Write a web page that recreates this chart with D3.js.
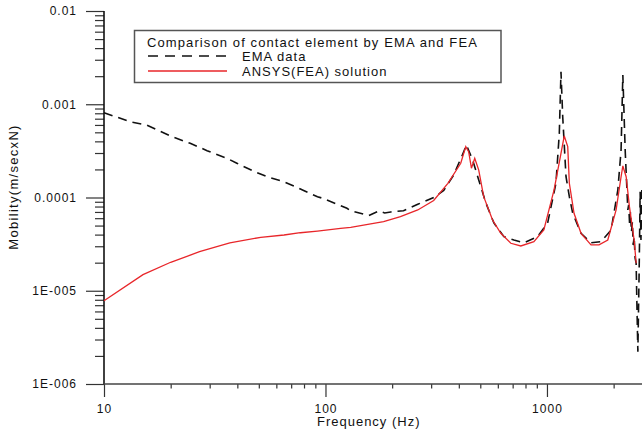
<!DOCTYPE html>
<html><head><meta charset="utf-8">
<script src="https://cdn.jsdelivr.net/npm/d3@7"></script>
<style>
html,body{margin:0;padding:0;background:#fff;}
svg{display:block;font-family:"Liberation Sans",Arial,Helvetica,sans-serif;}
</style></head><body>
<svg id="chart" width="642" height="430"></svg>
<script>
// ---- data ----
const emaFreq = [10, 13.1, 15.6, 20, 24.5, 29.2, 35.9, 39.8, 47.2, 54.5, 64.6, 71.9, 92, 97.9, 125, 130, 157, 174, 185, 197, 225, 261, 308, 342, 379, 415, 433, 462, 492, 530, 576, 639, 709, 787, 906, 1007, 1098, 1137, 1157, 1178, 1219, 1262, 1307, 1425, 1581, 1754, 1948, 2089, 2161, 2201, 2255, 2318, 2339, 2362, 2382, 2407, 2430, 2451, 2476, 2500, 2527, 2554, 2573, 2608, 2635, 2657, 2683];
const emaVal = [8.12e-4, 6.50e-4, 5.99e-4, 4.55e-4, 3.81e-4, 3.18e-4, 2.63e-4, 2.33e-4, 1.92e-4, 1.67e-4, 1.48e-4, 1.33e-4, 1.02e-4, 9.75e-5, 7.66e-5, 7.22e-5, 6.41e-5, 7.17e-5, 6.82e-5, 7.0e-5, 7.22e-5, 8.45e-5, 1.0e-4, 1.19e-4, 1.74e-4, 2.86e-4, 3.66e-4, 2.52e-4, 1.54e-4, 8.73e-5, 5.33e-5, 3.80e-5, 3.50e-5, 3.27e-5, 3.80e-5, 5.33e-5, 1.42e-4, 4.88e-4, 2.23e-3, 7.35e-4, 1.67e-4, 1.02e-4, 6.77e-5, 4.13e-5, 3.27e-5, 3.36e-5, 4.48e-5, 1.20e-4, 3.23e-4, 2.06e-3, 3.23e-4, 7.35e-5, 8.31e-5, 5.07e-5, 6.99e-5, 4.27e-5, 5.46e-5, 3.09e-5, 3.80e-5, 2.25e-5, 1.98e-5, 5.23e-6, 2.22e-6, 1.67e-5, 1.15e-4, 3.50e-5, 1.33e-4];

const ansysFreq = [10, 15, 20, 27, 33.5, 37, 51, 65, 77, 92, 117, 130, 160, 183, 218, 261, 308, 357, 408, 430, 443, 456, 472, 492, 518, 568, 619, 687, 762, 873, 968, 1076, 1157, 1197, 1241, 1262, 1325, 1425, 1581, 1718, 1882, 2052, 2161, 2201, 2278, 2357, 2475, 2528];
const ansysVal = [7.8e-6, 1.49e-5, 2.02e-5, 2.62e-5, 3.04e-5, 3.27e-5, 3.74e-5, 3.96e-5, 4.19e-5, 4.37e-5, 4.67e-5, 4.79e-5, 5.2e-5, 5.5e-5, 6.22e-5, 7.35e-5, 9.29e-5, 1.42e-4, 2.33e-4, 3.51e-4, 3.10e-4, 2.06e-4, 2.63e-4, 1.97e-4, 1.02e-4, 5.74e-5, 4.13e-5, 3.23e-5, 3.02e-5, 3.36e-5, 4.48e-5, 1.20e-4, 2.98e-4, 4.57e-4, 3.51e-4, 1.42e-4, 6.77e-5, 4.13e-5, 3.10e-5, 3.10e-5, 3.50e-5, 7.35e-5, 1.67e-4, 2.18e-4, 1.67e-4, 7.97e-5, 3.50e-5, 1.97e-5];

const xMajorTicks = [10, 100, 1000];
const xTickLabels = ["10", "100", "1000"];
const xMinorTicks = [20, 30, 40, 50, 60, 70, 80, 90, 200, 300, 400, 500, 600, 700, 800, 900, 2000];
const yMajorTicks = [1e-6, 1e-5, 1e-4, 1e-3, 1e-2];
const yTickLabels = ["1E-006", "1E-005", "0.0001", "0.001", "0.01"];
const yMinorTicks = [2e-6,3e-6,4e-6,5e-6,6e-6,7e-6,8e-6,9e-6, 2e-5,3e-5,4e-5,5e-5,6e-5,7e-5,8e-5,9e-5, 2e-4,3e-4,4e-4,5e-4,6e-4,7e-4,8e-4,9e-4, 2e-3,3e-3,4e-3,5e-3,6e-3,7e-3,8e-3,9e-3];

const titleText = "Comparison of contact element by EMA and FEA";
const seriesNames = ["EMA data", "ANSYS(FEA) solution"];
const xTitle = "Frequency (Hz)";
const yTitle = "Mobility(m/secxN)";

// ---- drawing ----
const svg = d3.select("#chart");
const x = d3.scaleLog().domain([10, 2700]).range([104, 642.5]);
const y = d3.scaleLog().domain([1e-6, 1e-2]).range([384, 11]);

function styleText(g, size) {
  g.selectAll("text").attr("font-size", size).attr("letter-spacing", "1px")
    .attr("fill", "#111").attr("font-family", '"Liberation Sans",Arial,sans-serif');
}

// y axis
const gyMinor = svg.append("g").attr("transform", `translate(${x(10)},0)`)
  .call(d3.axisLeft(y).tickValues(yMinorTicks).tickFormat("").tickSize(9));
gyMinor.select(".domain").remove();
const gy = svg.append("g").attr("transform", `translate(${x(10)},0)`)
  .call(d3.axisLeft(y).tickValues(yMajorTicks).tickFormat((d, i) => yTickLabels[i]).tickSize(18).tickPadding(9));
gy.select(".domain").remove();
styleText(gy, 12);

// x axis
const gxMinor = svg.append("g").attr("transform", `translate(0,${y(1e-6)})`)
  .call(d3.axisBottom(x).tickValues(xMinorTicks).tickFormat("").tickSize(4.5));
gxMinor.select(".domain").remove();
const gx = svg.append("g").attr("transform", `translate(0,${y(1e-6)})`)
  .call(d3.axisBottom(x).tickValues(xMajorTicks).tickFormat((d, i) => xTickLabels[i]).tickSize(13).tickPadding(7.5));
gx.select(".domain").remove();
styleText(gx, 12);

svg.selectAll(".tick line").attr("stroke", "#333").attr("stroke-width", 1.2);

// axis lines
svg.append("line").attr("x1", x(10)).attr("x2", x(10)).attr("y1", y(1e-2)).attr("y2", y(1e-6))
  .attr("stroke", "#111").attr("stroke-width", 1.6);
svg.append("line").attr("x1", x(10)).attr("x2", x.range()[1]).attr("y1", y(1e-6)).attr("y2", y(1e-6))
  .attr("stroke", "#444").attr("stroke-width", 1.3);

// axis titles
svg.append("text").attr("x", (x(10) + x.range()[1]) / 2 - 4.5).attr("y", 425.5)
  .attr("text-anchor", "middle").attr("font-size", 13).attr("letter-spacing", "1px").attr("fill", "#111")
  .text(xTitle);
svg.append("text").attr("transform", "translate(18,187) rotate(-90)")
  .attr("text-anchor", "middle").attr("font-size", 13).attr("letter-spacing", "1.3px").attr("fill", "#111")
  .text(yTitle);

// series
const emaData = emaFreq.map((f, i) => [f, emaVal[i]]);
const ansysData = ansysFreq.map((f, i) => [f, ansysVal[i]]);
const line = d3.line().x(d => x(d[0])).y(d => y(d[1]));

svg.append("path").datum(emaData).attr("d", line)
  .attr("fill", "none").attr("stroke", "#111").attr("stroke-width", 1.6)
  .attr("stroke-dasharray", "9,6");
svg.append("path").datum(ansysData).attr("d", line)
  .attr("fill", "none").attr("stroke", "#e8262a").attr("stroke-width", 1.3);

// legend box
const lg = svg.append("g");
lg.append("rect").attr("x", 134.5).attr("y", 30.5).attr("width", 366.5).attr("height", 52)
  .attr("fill", "none").attr("stroke", "#555").attr("stroke-width", 1.5);
lg.append("text").attr("x", 147).attr("y", 47).attr("font-size", 13).attr("letter-spacing", "1.1px")
  .attr("fill", "#111").text(titleText);
lg.append("line").attr("x1", 148).attr("x2", 227).attr("y1", 56).attr("y2", 56)
  .attr("stroke", "#111").attr("stroke-width", 1.6).attr("stroke-dasharray", "10,7");
lg.append("text").attr("x", 242).attr("y", 60.5).attr("font-size", 13).attr("letter-spacing", "1px")
  .attr("fill", "#111").text(seriesNames[0]);
lg.append("line").attr("x1", 148).attr("x2", 227).attr("y1", 71).attr("y2", 71)
  .attr("stroke", "#e8262a").attr("stroke-width", 1.3);
lg.append("text").attr("x", 242).attr("y", 75.5).attr("font-size", 13).attr("letter-spacing", "1px")
  .attr("fill", "#111").text(seriesNames[1]);
</script>
</body></html>
